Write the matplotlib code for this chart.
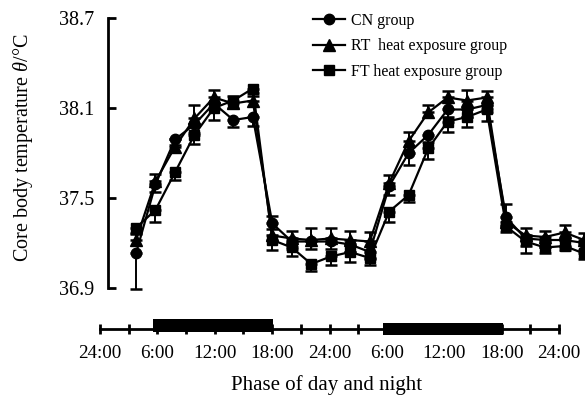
import matplotlib
matplotlib.use('Agg')
import matplotlib.pyplot as plt

plt.rcParams['font.family'] = ['Liberation Serif', 'DejaVu Serif']
plt.rcParams['mathtext.fontset'] = 'custom'
plt.rcParams['mathtext.rm'] = 'Liberation Serif'
plt.rcParams['mathtext.it'] = 'Liberation Serif:italic'

# sampling times (hours after the first 24:00), every 2 h
hours = [4, 6, 8, 10, 12, 14, 16, 18, 20, 22, 24, 26,
         28, 30, 32, 34, 36, 38, 40, 42, 44, 46, 48, 50]

cn = [37.13, 37.59, 37.89, 37.99, 38.13, 38.02, 38.04, 37.33, 37.21, 37.21, 37.21, 37.19,
      37.14, 37.58, 37.80, 37.92, 38.09, 38.09, 38.12, 37.37, 37.23, 37.22, 37.22, 37.20]
rt = [37.22, 37.61, 37.84, 38.03, 38.17, 38.13, 38.15, 37.25, 37.23, 37.22, 37.23, 37.22,
      37.21, 37.60, 37.88, 38.07, 38.17, 38.15, 38.17, 37.34, 37.25, 37.24, 37.27, 37.22]
ft = [37.30, 37.42, 37.67, 37.92, 38.10, 38.15, 38.23, 37.22, 37.17, 37.06, 37.11, 37.14,
      37.10, 37.41, 37.52, 37.83, 38.01, 38.04, 38.09, 37.31, 37.21, 37.17, 37.18, 37.13]

# error bars (CN and FT shown downwards, RT upwards)
cn_err = [0.24, 0.05, 0.04, 0.06, 0.04, 0.05, 0.06, 0.04, 0.05, 0.05, 0.05, 0.05,
          0.05, 0.06, 0.08, 0.05, 0.05, 0.05, 0.05, 0.05, 0.05, 0.05, 0.05, 0.05]
rt_err = [0.04, 0.05, 0.05, 0.09, 0.05, 0.05, 0.05, 0.13, 0.05, 0.08, 0.07, 0.06,
          0.06, 0.05, 0.06, 0.05, 0.04, 0.07, 0.04, 0.12, 0.05, 0.04, 0.05, 0.05]
ft_err = [0.03, 0.08, 0.05, 0.06, 0.08, 0.05, 0.05, 0.07, 0.06, 0.05, 0.06, 0.07,
          0.05, 0.07, 0.05, 0.07, 0.07, 0.07, 0.08, 0.04, 0.08, 0.04, 0.03, 0.04]

yticks = [36.9, 37.5, 38.1, 38.7]
tick_hours = [0, 6, 12, 18, 24, 30, 36, 42, 48]
tick_labels = ['24:00', '6:00', '12:00', '18:00', '24:00', '6:00', '12:00', '18:00', '24:00']
light_start = [5.5, 29.6]
light_end = [18.1, 42.1]

W, H = 585, 395
fig = plt.figure(figsize=(W / 100, H / 100), dpi=100)

# main panel
ax = fig.add_axes([108 / W, 1 - 288 / H, (W - 108) / W, 270 / H])
zero = [0] * len(hours)
series = [
    (cn, [cn_err, zero], 'o', 7.5, 'CN group'),
    (rt, [zero, rt_err], '^', 8, 'RT  heat exposure group'),
    (ft, [ft_err, zero], 's', 7, 'FT heat exposure group'),
]
handles = []
for vals, err, mk, ms, lab in series:
    h = ax.errorbar(hours, vals, yerr=err, fmt='-' + mk, color='k', ms=ms,
                    lw=1.6, elinewidth=1.4, capsize=4, capthick=1.8, label=lab)
    data_line, caps, bars = h.lines
    for art in [data_line, *caps, *bars]:
        art.set_clip_on(False)
    handles.append(data_line)

ax.set_xlim(1.13, 50.1)
ax.set_ylim(36.9, 38.7)
for s in ['top', 'right', 'bottom']:
    ax.spines[s].set_visible(False)
ax.spines['left'].set_linewidth(2)
ax.set_xticks([])
ax.set_yticks(yticks)
ax.set_yticklabels([f'{v:.1f}' for v in yticks])
ax.tick_params(axis='y', direction='in', length=6, width=2, labelsize=14.5, pad=10)
ax.patch.set_visible(False)

leg = ax.legend(handles=handles, labels=[s[4] for s in series],
                loc='upper left', bbox_to_anchor=(313 / W, 1 - 13 / H),
                bbox_transform=fig.transFigure, frameon=False, fontsize=11.5,
                handlelength=2.0, handletextpad=0.4, labelspacing=0.58, borderpad=0,
                borderaxespad=0)

# time axis with light periods
ax2 = fig.add_axes([100 / W, 1 - 329 / H, 459 / W, 20 / H])
ax2.set_xlim(0, 48)
ax2.set_ylim(0, 20)
for s in ['top', 'right', 'left']:
    ax2.spines[s].set_visible(False)
ax2.spines['bottom'].set_linewidth(2)
ax2.set_yticks([])
ax2.set_xticks(tick_hours)
ax2.set_xticklabels(tick_labels)
ax2.set_xticks(range(3, 48, 6), minor=True)
ax2.tick_params(axis='x', which='both', direction='inout', length=7, width=2,
                labelsize=13.8, pad=8)
ax2.patch.set_visible(False)
for i, (a, b) in enumerate(zip(light_start, light_end)):
    bottom = -3 if i == 0 else -6
    hgt = 13 if i == 0 else 12
    ax2.bar(a, hgt, width=b - a, bottom=bottom, align='edge', color='k',
            clip_on=False, zorder=1)

fig.text(23 / W, 1 - 148 / H, r'Core body temperature $\it{\theta}$/°C', rotation=90,
         ha='center', va='center', fontsize=14.5)
fig.text(327 / W, 1 - 385 / H, 'Phase of day and night', ha='center', va='center',
         fontsize=15)

fig.savefig('out.png', dpi=100)
